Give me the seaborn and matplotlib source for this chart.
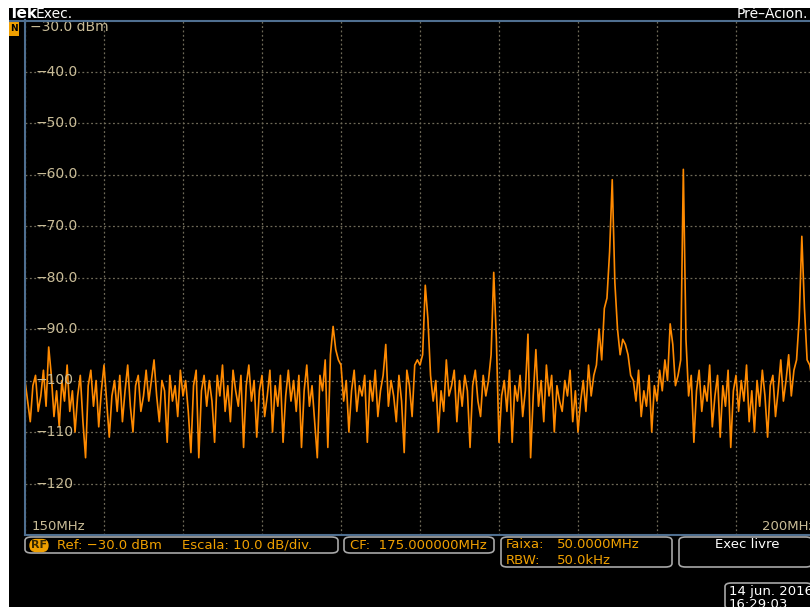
import numpy as np
import pandas as pd
import matplotlib
matplotlib.use("Agg")
import matplotlib.pyplot as plt
from matplotlib.patches import FancyBboxPatch, Rectangle
from matplotlib.lines import Line2D
import seaborn as sns

# spectrum trace, 150-200 MHz, dBm
f_start, f_stop = 150.0, 200.0
level_dbm = [
    -100, -104, -108, -101, -99, -106, -103, -98, -105, -93.5,
    -99, -107, -102, -109, -100, -104, -97, -106, -102, -110,
    -103, -99, -108, -115, -101, -98, -105, -100, -109, -102,
    -97, -104, -111, -103, -100, -106, -99, -108, -102, -97,
    -105, -110, -101, -99, -106, -103, -98, -104, -100, -96,
    -103, -108, -100, -102, -112, -99, -104, -101, -107, -98,
    -103, -100, -106, -114, -101, -98, -115, -102, -99, -105,
    -100, -104, -112, -99, -103, -97, -106, -101, -108, -98,
    -102, -105, -99, -113, -101, -97, -104, -100, -111, -102,
    -99, -107, -103, -98, -110, -101, -105, -99, -112, -103,
    -98, -104, -100, -106, -99, -113, -102, -97, -105, -101,
    -108, -115, -99, -102, -96, -113, -95, -89.5, -94, -96,
    -97, -104, -100, -110, -102, -98, -106, -101, -103, -99,
    -112, -100, -104, -98, -107, -102, -99, -93, -105, -100,
    -103, -108, -99, -104, -114, -98, -101, -107, -97, -96,
    -97, -95, -81.5, -88, -99, -104, -100, -110, -102, -106,
    -96, -103, -101, -98, -108, -100, -105, -99, -102, -113,
    -101, -98, -104, -107, -99, -103, -100, -95, -79, -92,
    -112, -103, -100, -106, -98, -112, -101, -104, -99, -107,
    -102, -91, -115, -103, -94, -105, -100, -108, -97, -103,
    -99, -110, -101, -104, -106, -100, -103, -98, -108, -102,
    -110, -104, -100, -106, -97, -103, -99, -97, -90, -96,
    -86, -84, -75, -61, -81, -90, -95, -92, -93, -95,
    -99, -100, -104, -98, -107, -102, -105, -99, -110, -101,
    -104, -98, -102, -96, -100, -89, -93, -101, -99, -96,
    -59, -92, -103, -99, -112, -102, -98, -106, -101, -104,
    -97, -109, -103, -99, -111, -101, -105, -98, -113, -102,
    -99, -106, -100, -104, -97, -108, -102, -110, -100, -105,
    -98, -103, -111, -101, -99, -107, -102, -96, -104, -100,
    -95, -103, -98, -96, -88, -72, -86, -96, -97, -100,
    -97,
]
freq_mhz = np.linspace(f_start, f_stop, len(level_dbm))
ytick_vals = [-40, -50, -60, -70, -80, -90, -100, -110, -120]
ytick_labels = ["\u221240.0", "\u221250.0", "\u221260.0", "\u221270.0", "\u221280.0",
                "\u221290.0", "\u2212100", "\u2212110", "\u2212120"]

df = pd.DataFrame({"freq": freq_mhz, "dbm": level_dbm})

sns.set_theme(style="dark")
plt.rcParams["font.family"] = ["DejaVu Sans"]

W, H = 810, 607
fig = plt.figure(figsize=(W / 100, H / 100), dpi=100, facecolor="black")

def fx(px):
    return px / W

def fy(py):
    return 1 - py / H

# plot area: 25..815 px wide, 20..535 px tall
ax = fig.add_axes([fx(25), fy(535), (815 - 25) / W, (535 - 20) / H])
ax.set_facecolor("black")

sns.lineplot(data=df, x="freq", y="dbm", ax=ax, color="#ff8a00", linewidth=1.2)

ax.set_xlim(f_start, f_stop)
ax.set_ylim(-130, -30)
ax.set_xticks(np.arange(150, 201, 5))
ax.set_yticks(np.arange(-130, -29, 10))
ax.set_xticklabels([])
ax.set_yticklabels([])
ax.set_xlabel("")
ax.set_ylabel("")
grid_col = "#6f6a58"
ax.grid(True, color=grid_col, linestyle=(0, (1.5, 2)), linewidth=0.9)
ax.tick_params(axis="x", length=0)
ax.tick_params(axis="y", direction="in", length=4, color="#c9bc97", width=1, pad=0)
for side in ["top", "right"]:
    ax.spines[side].set_visible(False)
for side in ["left", "bottom"]:
    ax.spines[side].set_color("#4f6f90")
    ax.spines[side].set_linewidth(1.5)

lab_col = "#c9bc97"
tr = ax.get_yaxis_transform()
ax.text(0.006, -31.4, "\u221230.0 dBm", transform=tr, color=lab_col, fontsize=10,
        va="center", ha="left")
for v, lab in zip(ytick_vals, ytick_labels):
    ax.text(0.0135, v, lab, transform=tr, color=lab_col, fontsize=10,
            va="center", ha="left")
ax.text(0.008, -128.3, "150MHz", transform=tr, color=lab_col, fontsize=9.5,
        va="center", ha="left")
ax.text(0.933, -128.3, "200MHz", transform=tr, color=lab_col, fontsize=9.5,
        va="center", ha="left")

# white screen edges
fig.patches.append(Rectangle((0, fy(8)), 1, 8 / H, transform=fig.transFigure,
                             facecolor="white", edgecolor="none", zorder=5))
fig.patches.append(Rectangle((0, 0), fx(9), 1, transform=fig.transFigure,
                             facecolor="white", edgecolor="none", zorder=5))
# top blue line
fig.lines.append(Line2D([fx(9), 1], [fy(20.5), fy(20.5)], transform=fig.transFigure,
                        color="#4f6f90", linewidth=1.5))
# top bar text
fig.text(fx(9), fy(14), "Tek", color="white", fontsize=11, fontweight="bold",
         va="center", ha="left")
fig.text(fx(36), fy(14), "Exec.", color="white", fontsize=10, va="center", ha="left")
fig.text(fx(808), fy(14), "Pr\u00e9\u2013Acion.", color="white", fontsize=10,
         va="center", ha="right")
# small trigger icon
fig.patches.append(Rectangle((fx(9), fy(36)), fx(10), 15 / H, transform=fig.transFigure,
                             facecolor="#f0a000", edgecolor="none"))
fig.text(fx(14), fy(28.5), "N", color="black", fontsize=6.5, fontweight="bold",
         va="center", ha="center")

box_col = "#a8a8a8"
orange = "#f0a000"

def rbox(x0, y0, x1, y1):
    p = FancyBboxPatch((fx(x0), fy(y1)), fx(x1 - x0), (y1 - y0) / H,
                       boxstyle="round,pad=0,rounding_size=0.008",
                       transform=fig.transFigure, facecolor="black",
                       edgecolor=box_col, linewidth=1.2, mutation_aspect=H / W)
    fig.patches.append(p)

rbox(25, 537, 338, 553)
rbox(344, 537, 494, 553)
rbox(501, 537, 672, 567)
rbox(679, 537, 812, 567)
rbox(725, 583, 812, 609)

fig.text(fx(39), fy(545.5), "RF", color="#3a2a00", fontsize=8, fontweight="bold",
         va="center", ha="center",
         bbox=dict(boxstyle="round,pad=0.15,rounding_size=0.6", facecolor=orange,
                   edgecolor="none"))
fig.text(fx(57), fy(545.5), "Ref: \u221230.0 dBm", color=orange, fontsize=9.5,
         va="center", ha="left")
fig.text(fx(182), fy(545.5), "Escala: 10.0 dB/div.", color=orange, fontsize=9.5,
         va="center", ha="left")
fig.text(fx(350), fy(545.5), "CF:  175.000000MHz", color=orange, fontsize=9.5,
         va="center", ha="left")
fig.text(fx(506), fy(545), "Faixa:", color=orange, fontsize=9.5, va="center", ha="left")
fig.text(fx(557), fy(545), "50.0000MHz", color=orange, fontsize=9.5, va="center", ha="left")
fig.text(fx(506), fy(560), "RBW:", color=orange, fontsize=9.5, va="center", ha="left")
fig.text(fx(557), fy(560), "50.0kHz", color=orange, fontsize=9.5, va="center", ha="left")
fig.text(fx(747), fy(545), "Exec livre", color="white", fontsize=9.5,
         va="center", ha="center")
fig.text(fx(729), fy(592), "14 jun. 2016", color="white", fontsize=9.5,
         va="center", ha="left")
fig.text(fx(729), fy(605), "16:29:03", color="white", fontsize=9.5,
         va="center", ha="left")

fig.savefig("out.png", dpi=100, facecolor="black")
